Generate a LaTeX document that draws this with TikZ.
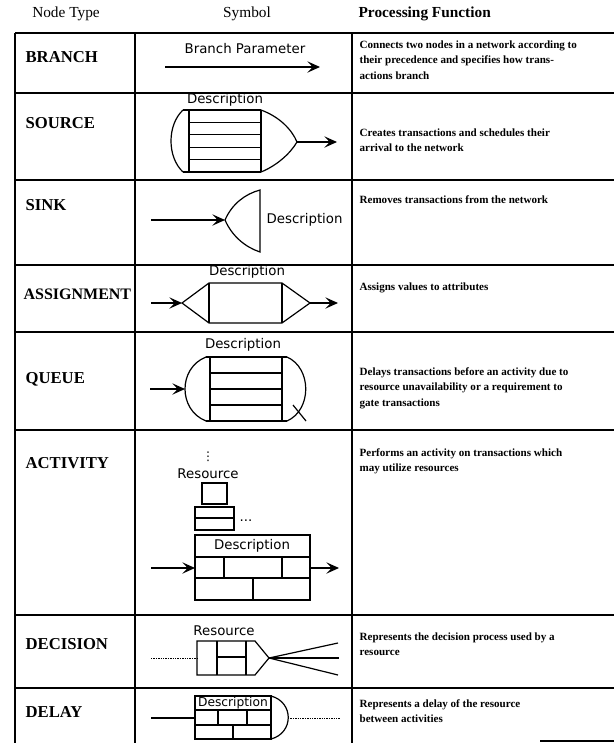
\documentclass[tikz,border=0pt]{standalone}
\usepackage{fontspec}
\setmainfont{Liberation Serif}
\newfontfamily\symfont{DejaVu Sans}
\usetikzlibrary{arrows.meta}

\tikzset{every picture/.style={line width=0.9pt}}
\tikzset{
  rule/.style={line width=1.2pt},
  arr/.style={-{Stealth[length=9.5pt,width=8.5pt,inset=4pt]}},
  dotln/.style={line width=0.6pt,dash pattern=on 1pt off 0.8pt},
  symtxt/.style={font=\symfont\fontsize{10}{12}\selectfont,inner sep=0.75pt},
  typetxt/.style={font=\bfseries\fontsize{12.5}{15}\selectfont,inner sep=0.75pt,anchor=west},
  functxt/.style={font=\bfseries\fontsize{8.3}{11.6}\selectfont,inner sep=0pt,anchor=north west,align=left},
  headtxt/.style={font=\fontsize{11.5}{14}\selectfont,inner sep=0.75pt},
}

\begin{document}
\begin{tikzpicture}[x=0.75pt,y=0.75pt,yscale=-1,xscale=1]
\useasboundingbox (0,0) rectangle (614,743);

%Table rules
\draw [rule] (15,33) -- (614,33) ;
\draw [rule] (15,33) -- (15,743) ;
\draw [rule] (135,33) -- (135,743) ;
\draw [rule] (352,33) -- (352,743) ;
\draw [rule] (15,93) -- (614,93) ;
\draw [rule] (15,180) -- (614,180) ;
\draw [rule] (15,265) -- (614,265) ;
\draw [rule] (15,332) -- (614,332) ;
\draw [rule] (15,430) -- (614,430) ;
\draw [rule] (15,615) -- (614,615) ;
\draw [rule] (15,688) -- (614,688) ;
\draw [rule] (540,741) -- (614,741) ;

% Header Text Nodes
\draw (66,14) node [headtxt] (hType) {Node Type};
\draw (247,14) node [headtxt] (hSym) {Symbol};
\draw (357,14) node [headtxt,anchor=west,font=\bfseries\fontsize{11.5}{14}\selectfont] (hFunc) {Processing Function};

% Node Type Text Nodes
\draw (24,57) node [typetxt] (tBranch) {BRANCH};
\draw (24,123) node [typetxt] (tSource) {SOURCE};
\draw (24,205) node [typetxt] (tSink) {SINK};
\draw (22,294) node [typetxt,font=\bfseries\fontsize{12}{15}\selectfont] (tAssign) {ASSIGNMENT};
\draw (24,379) node [typetxt] (tQueue) {QUEUE};
\draw (24,463) node [typetxt] (tActivity) {ACTIVITY};
\draw (24,644) node [typetxt] (tDecision) {DECISION};
\draw (24,712) node [typetxt] (tDelay) {DELAY};

% Processing Function Text Nodes
\draw (359,40) node [functxt] (fBranch) {Connects two nodes in a network according to\\their precedence and specifies how trans-\\actions branch};
\draw (359,128) node [functxt] (fSource) {Creates transactions and schedules their\\arrival to the network};
\draw (359,195) node [functxt] (fSink) {Removes transactions from the network};
\draw (359,282) node [functxt] (fAssign) {Assigns values to attributes};
\draw (359,367) node [functxt] (fQueue) {Delays transactions before an activity due to\\resource unavailability or a requirement to\\gate transactions};
\draw (359,448) node [functxt] (fActivity) {Performs an activity on transactions which\\may utilize resources};
\draw (359,632) node [functxt] (fDecision) {Represents the decision process used by a\\resource};
\draw (359,699) node [functxt] (fDelay) {Represents a delay of the resource\\between activities};

%Shape: Branch
\draw (245,49) node [symtxt] (brLbl) {Branch Parameter};
\coordinate (brA) at (165,67);
\coordinate (brB) at (320,67);
\draw [arr] (brA) -- (brB) ;

%Shape: Source
\draw (225,100) node [symtxt] (srcLbl) {Description};
\draw (183,110) .. controls (167,125) and (167,157) .. (183,172) ;
\draw (183,110) -- (261,110) ;
\draw (183,172) -- (261,172) ;
\draw (189,110) -- (189,172) ;
\draw (261,110) -- (261,172) ;
\draw (189,122.4) -- (261,122.4) ;
\draw (189,134.8) -- (261,134.8) ;
\draw (189,147.2) -- (261,147.2) ;
\draw (189,159.6) -- (261,159.6) ;
\draw (261,110) .. controls (280,117) and (292,130) .. (297,142) ;
\draw (297,142) .. controls (290,154) and (276,166) .. (261,172) ;
\coordinate (srcTip) at (297,142);
\coordinate (srcOut) at (337,142);
\draw [arr] (srcTip) -- (srcOut) ;

%Shape: Sink
\coordinate (snkIn) at (151,220);
\coordinate (snkTip) at (225,220);
\draw [arr] (snkIn) -- (snkTip) ;
\draw (225,220) .. controls (232,204) and (245,194) .. (260,190) -- (260,252) .. controls (245,247) and (232,236) .. (225,220) ;
\draw (265,220) node [symtxt,anchor=west] (snkLbl) {Description};

%Shape: Assignment
\draw (247,272) node [symtxt] (asgLbl) {Description};
\coordinate (asgIn) at (151,303);
\coordinate (asgL) at (182,303);
\coordinate (asgR) at (310,303);
\coordinate (asgOut) at (338,303);
\draw [arr] (asgIn) -- (asgL) ;
\draw (asgL) -- (209,283) -- (282,283) -- (asgR) -- (282,323) -- (209,323) -- cycle ;
\draw (209,283) -- (209,323) ;
\draw (282,283) -- (282,323) ;
\draw [arr] (asgR) -- (asgOut) ;

%Shape: Queue
\draw (243,345) node [symtxt] (queLbl) {Description};
\coordinate (queIn) at (150,389);
\coordinate (queL) at (185,389);
\draw [arr] (queIn) -- (queL) ;
\draw (206,357) .. controls (178,368) and (178,410) .. (206,421) ;
\draw (206,357) -- (287,357) ;
\draw (206,421) -- (287,421) ;
\draw (210,357) -- (210,421) ;
\draw (282,357) -- (282,421) ;
\draw (210,373) -- (282,373) ;
\draw (210,389) -- (282,389) ;
\draw (210,405) -- (282,405) ;
\draw (287,357) .. controls (312,368) and (312,410) .. (287,421) ;
\draw (293,405) -- (306,421) ;

%Shape: Activity
\draw (208,457) node [symtxt,font=\symfont\fontsize{9}{9}\selectfont] (actDots) {⋮};
\draw (208,474) node [symtxt] (actRes) {Resource};
\draw (202,483) rectangle (227,504) ;
\draw (195,507) rectangle (234,530) ;
\draw (195,518) -- (234,518) ;
\draw (246,521) node [symtxt] (actMore) {...};
\draw (195,535) rectangle (310,600) ;
\draw (252,546) node [symtxt] (actLbl) {Description};
\draw (195,557) -- (310,557) ;
\draw (195,578) -- (310,578) ;
\draw (224,557) -- (224,578) ;
\draw (282,557) -- (282,578) ;
\draw (253,578) -- (253,600) ;
\coordinate (actIn) at (151,568);
\coordinate (actL) at (195,568);
\coordinate (actR) at (310,568);
\coordinate (actOut) at (339,568);
\draw [arr] (actIn) -- (actL) ;
\draw [arr] (actR) -- (actOut) ;

%Shape: Decision
\draw (224,631) node [symtxt] (decRes) {Resource};
\coordinate (decIn) at (151,658);
\coordinate (decL) at (197,658);
\coordinate (decTip) at (269,658);
\draw (197,641) -- (255,641) -- (decTip) -- (255,675) -- (197,675) -- cycle ;
\draw (217,641) -- (217,675) ;
\draw (246,641) -- (246,675) ;
\draw (217,657) -- (246,657) ;
\draw [dotln] (decIn) -- (decL) ;
\draw (decTip) -- (338,643) ;
\draw (decTip) -- (339,658) ;
\draw (decTip) -- (338,675) ;

%Shape: Delay
\draw (195,696) rectangle (271,739) ;
\draw (233,703) node [symtxt,font=\symfont\fontsize{9.2}{10}\selectfont] (dlyLbl) {Description};
\draw (195,710) -- (271,710) ;
\draw (195,725) -- (271,725) ;
\draw (218,710) -- (218,725) ;
\draw (247,710) -- (247,725) ;
\draw (233,725) -- (233,739) ;
\draw (271,696) .. controls (294,702) and (294,733) .. (271,739) ;
\coordinate (dlyIn) at (151,718);
\coordinate (dlyL) at (195,718);
\coordinate (dlyR) at (288,718);
\coordinate (dlyOut) at (340,718);
\draw (dlyIn) -- (dlyL) ;
\draw [dotln] (dlyR) -- (dlyOut) ;

\end{tikzpicture}
\end{document}
